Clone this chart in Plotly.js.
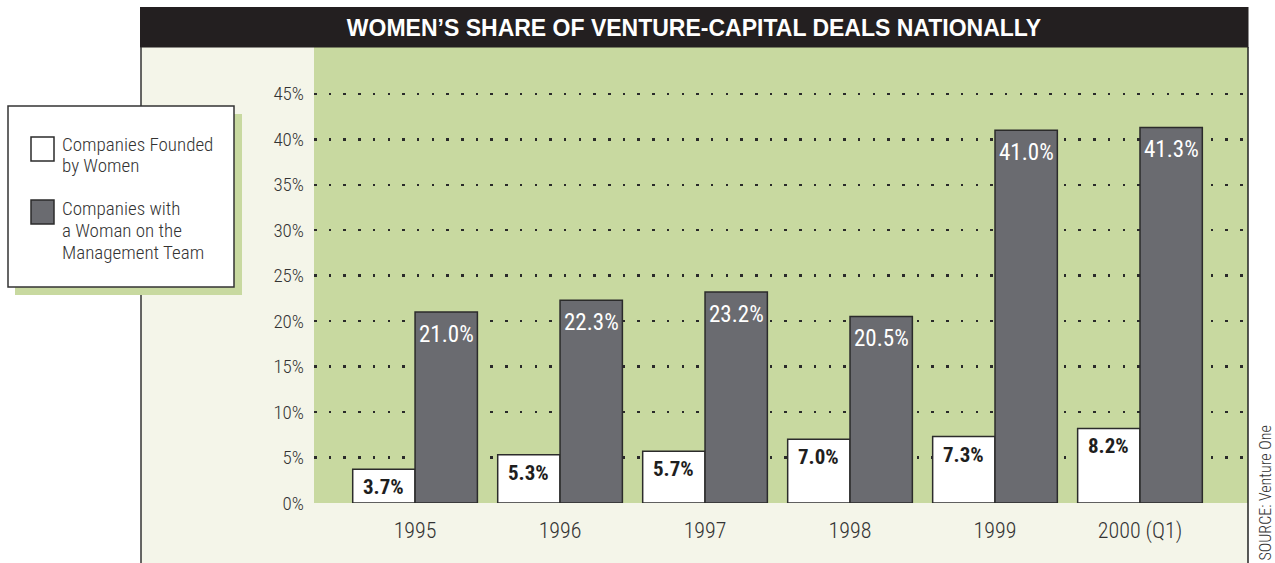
<!DOCTYPE html>
<html>
<head>
<meta charset="utf-8">
<script src="https://cdn.plot.ly/plotly-3.0.1.min.js"></script>
<style>
  html, body { margin: 0; padding: 0; background: #ffffff; }
  #chart { width: 1275px; height: 563px; }
</style>
</head>
<body>
<div id="chart"></div>
<script>
// ---- data ----
var years = ["1995", "1996", "1997", "1998", "1999", "2000 (Q1)"];
var foundedByWomen = [3.7, 5.3, 5.7, 7.0, 7.3, 8.2];
var womanOnTeam = [21.0, 22.3, 23.2, 20.5, 41.0, 41.3];
var seriesNames = ["Companies Founded<br>by Women", "Companies with<br>a Woman on the<br>Management Team"];
var yTickVals = [0, 5, 10, 15, 20, 25, 30, 35, 40, 45];
var yTickText = ["0%", "5%", "10%", "15%", "20%", "25%", "30%", "35%", "40%", "45%"];
var chartTitle = "WOMEN\u2019S SHARE OF VENTURE-CAPITAL DEALS NATIONALLY";
var sourceText = "SOURCE: Venture One";

// ---- styling ----
var W = 1275, H = 563;
var L = 314, R = 27, T = 47, B = 60;
var PW = W - L - R, PH = H - T - B;
function px(x) { return (x - L) / PW; }
function py(y) { return (H - B - y) / PH; }

var COND = "'Roboto Condensed', 'DejaVu Sans Condensed', sans-serif";
var GREEN = "#c8d9a0";
var CREAM = "#f4f5e9";
var DARK = "#231f20";
var GRAY = "#6a6b70";
var OUTLINE = "#2b2b2b";
var TXT = "#333333";
var bargap = 0.14;
var half = (1 - bargap) / 4;

var traces = [
  {
    type: "bar", x: years, y: foundedByWomen, name: seriesNames[0],
    marker: { color: "#ffffff", line: { color: OUTLINE, width: 1.5 } },
    hoverinfo: "skip", showlegend: false
  },
  {
    type: "bar", x: years, y: womanOnTeam, name: seriesNames[1],
    marker: { color: GRAY, line: { color: OUTLINE, width: 1.5 } },
    hoverinfo: "skip", showlegend: false
  }
];

var annotations = [];
foundedByWomen.forEach(function (v, i) {
  annotations.push({
    xref: "x", yref: "y", x: i - half, y: v, text: v.toFixed(1) + "%",
    showarrow: false, yanchor: "middle", yshift: -18,
    font: { family: COND, size: 21, color: "#1e1e1e", weight: "bold" }
  });
});
womanOnTeam.forEach(function (v, i) {
  annotations.push({
    xref: "x", yref: "y", x: i + half, y: v, text: v.toFixed(1) + "%",
    showarrow: false, yanchor: "middle", yshift: -22,
    font: { family: COND, size: 23, color: "#ffffff", weight: 400 }
  });
});
// legend texts, one annotation per line
var legendLayout = [{ first: 144, step: 21 }, { first: 208, step: 22 }];
seriesNames.forEach(function (name, s) {
  name.split("<br>").forEach(function (line, k) {
    annotations.push({
      xref: "paper", yref: "paper", x: px(61),
      y: py(legendLayout[s].first + k * legendLayout[s].step),
      xanchor: "left", yanchor: "middle", align: "left", showarrow: false, text: line,
      borderpad: 0,
      font: { family: COND, size: 19, color: TXT, weight: 300 }
    });
  });
});
// source
annotations.push({
  xref: "paper", yref: "paper", x: px(1265), y: py(424), xanchor: "center", yanchor: "top",
  textangle: -90, showarrow: false, text: sourceText,
  font: { family: COND, size: 16, color: TXT, weight: 300 }
});

var shapes = [
  // cream panel
  { type: "rect", xref: "paper", yref: "paper", x0: px(141), x1: px(1248), y0: py(47), y1: py(563),
    fillcolor: CREAM, line: { width: 0 }, layer: "below" },
  // green plot area
  { type: "rect", xref: "paper", yref: "paper", x0: px(314), x1: px(1248), y0: py(47), y1: py(503),
    fillcolor: GREEN, line: { width: 0 }, layer: "below" },
  // title bar
  { type: "rect", xref: "paper", yref: "paper", x0: px(140), x1: px(1248.5), y0: py(7), y1: py(47.5),
    fillcolor: DARK, line: { width: 0 }, layer: "below" },
  // left border
  { type: "line", xref: "paper", yref: "paper", x0: px(141), x1: px(141), y0: py(47), y1: py(563),
    line: { color: "#333333", width: 1.5 }, layer: "above" },
  // right border
  { type: "line", xref: "paper", yref: "paper", x0: px(1248), x1: px(1248), y0: py(47), y1: py(563),
    line: { color: "#222222", width: 1.5 }, layer: "above" },
  // legend shadow
  { type: "rect", xref: "paper", yref: "paper", x0: px(15), x1: px(242), y0: py(114), y1: py(295),
    fillcolor: GREEN, line: { width: 0 }, layer: "above" },
  // legend box
  { type: "rect", xref: "paper", yref: "paper", x0: px(8), x1: px(234), y0: py(106), y1: py(287),
    fillcolor: "#ffffff", line: { color: "#333333", width: 1.5 }, layer: "above" },
  // legend swatches
  { type: "rect", xref: "paper", yref: "paper", x0: px(31), x1: px(54), y0: py(137), y1: py(161),
    fillcolor: "#ffffff", line: { color: OUTLINE, width: 1.5 }, layer: "above" },
  { type: "rect", xref: "paper", yref: "paper", x0: px(31), x1: px(54), y0: py(200), y1: py(224),
    fillcolor: GRAY, line: { color: OUTLINE, width: 1.5 }, layer: "above" }
];

var layout = {
  width: W, height: H,
  margin: { l: L, r: R, t: T, b: B, pad: 0 },
  paper_bgcolor: "#ffffff",
  plot_bgcolor: "rgba(0,0,0,0)",
  barmode: "group", bargap: bargap, bargroupgap: 0,
  showlegend: false,
  title: {
    text: chartTitle, x: 694 / W, xanchor: "center", xref: "container",
    y: 1 - 28 / H, yanchor: "middle", yref: "container",
    font: { family: "'Liberation Sans', Arial, sans-serif", size: 23, color: "#ffffff", weight: "bold" }
  },
  xaxis: {
    type: "category", range: [-0.697, 5.745], fixedrange: true,
    showgrid: false, zeroline: false, showline: false, ticks: "",
    ticklabelstandoff: 12,
    tickfont: { family: COND, size: 22, color: TXT, weight: 300 }
  },
  yaxis: {
    range: [0, 50.15], fixedrange: true,
    tickmode: "array", tickvals: yTickVals, ticktext: yTickText,
    showgrid: true, gridcolor: "#2a2a2a", gridwidth: 2.5, griddash: "2.5px,12.2px",
    zeroline: false, showline: false, ticks: "",
    ticklabelstandoff: 9,
    tickfont: { family: COND, size: 19, color: TXT, weight: 300 }
  },
  shapes: shapes,
  annotations: annotations
};

Plotly.newPlot("chart", traces, layout, { displayModeBar: false, staticPlot: true });
</script>
</body>
</html>
